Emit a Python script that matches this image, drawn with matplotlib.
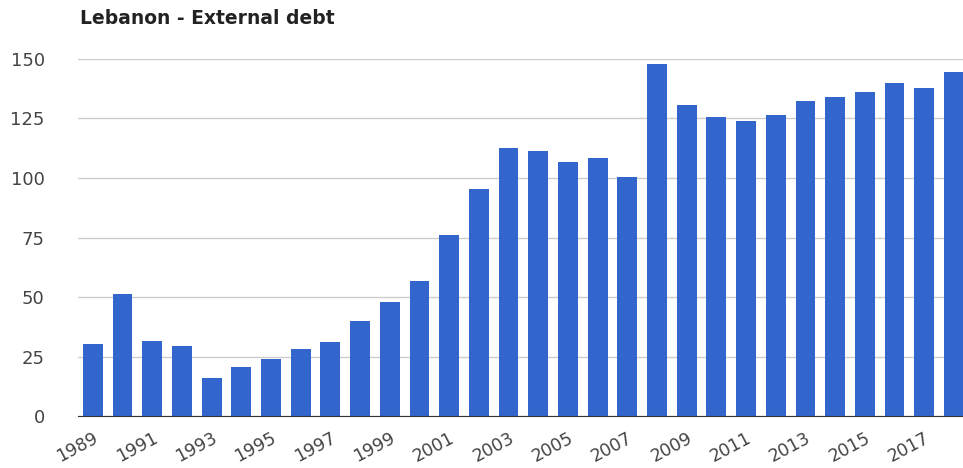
import matplotlib.pyplot as plt
import numpy as np

years = list(range(1989, 2019))
debt = [30.3, 51.3, 31.5, 29.4, 16.0, 20.6, 24.0, 28.2, 31.1, 39.9,
        47.9, 56.7, 76.0, 95.4, 112.6, 111.3, 106.7, 108.4, 100.4, 147.7,
        130.7, 125.6, 124.0, 126.3, 132.4, 134.0, 136.0, 139.7, 137.8, 144.5]
tick_years = years[::2]

fig = plt.figure(figsize=(9.63, 4.68), dpi=100)
ax = fig.add_axes([0.081, 0.111, 0.925, 0.763])

ax.bar(years, debt, width=0.67, color='#3366cc', zorder=2)

ax.set_xlim(1988.5, 2018.5)
ax.set_ylim(0, 150)
ax.set_yticks([0, 25, 50, 75, 100, 125, 150])
ax.set_xticks(tick_years)
ax.set_xticklabels([str(y) for y in tick_years], rotation=28, ha='right',
                   rotation_mode='anchor', fontsize=12.5, color='#444444',
                   family='DejaVu Sans')
for lbl in ax.get_yticklabels():
    lbl.set_family('DejaVu Sans')
ax.tick_params(axis='y', length=0, pad=24, labelsize=13, labelcolor='#444444')
ax.tick_params(axis='x', length=0, pad=9)

ax.grid(axis='y', color='#cccccc', linewidth=1, zorder=0)
for s in ['top', 'right', 'left']:
    ax.spines[s].set_visible(False)
ax.spines['bottom'].set_color('#333333')
ax.spines['bottom'].set_zorder(3)

fig.text(0.083, 0.96, 'Lebanon - External debt', fontsize=13.5, fontweight='bold',
         family='DejaVu Sans', color='#222222', va='center')

plt.savefig('out.png', dpi=100)
